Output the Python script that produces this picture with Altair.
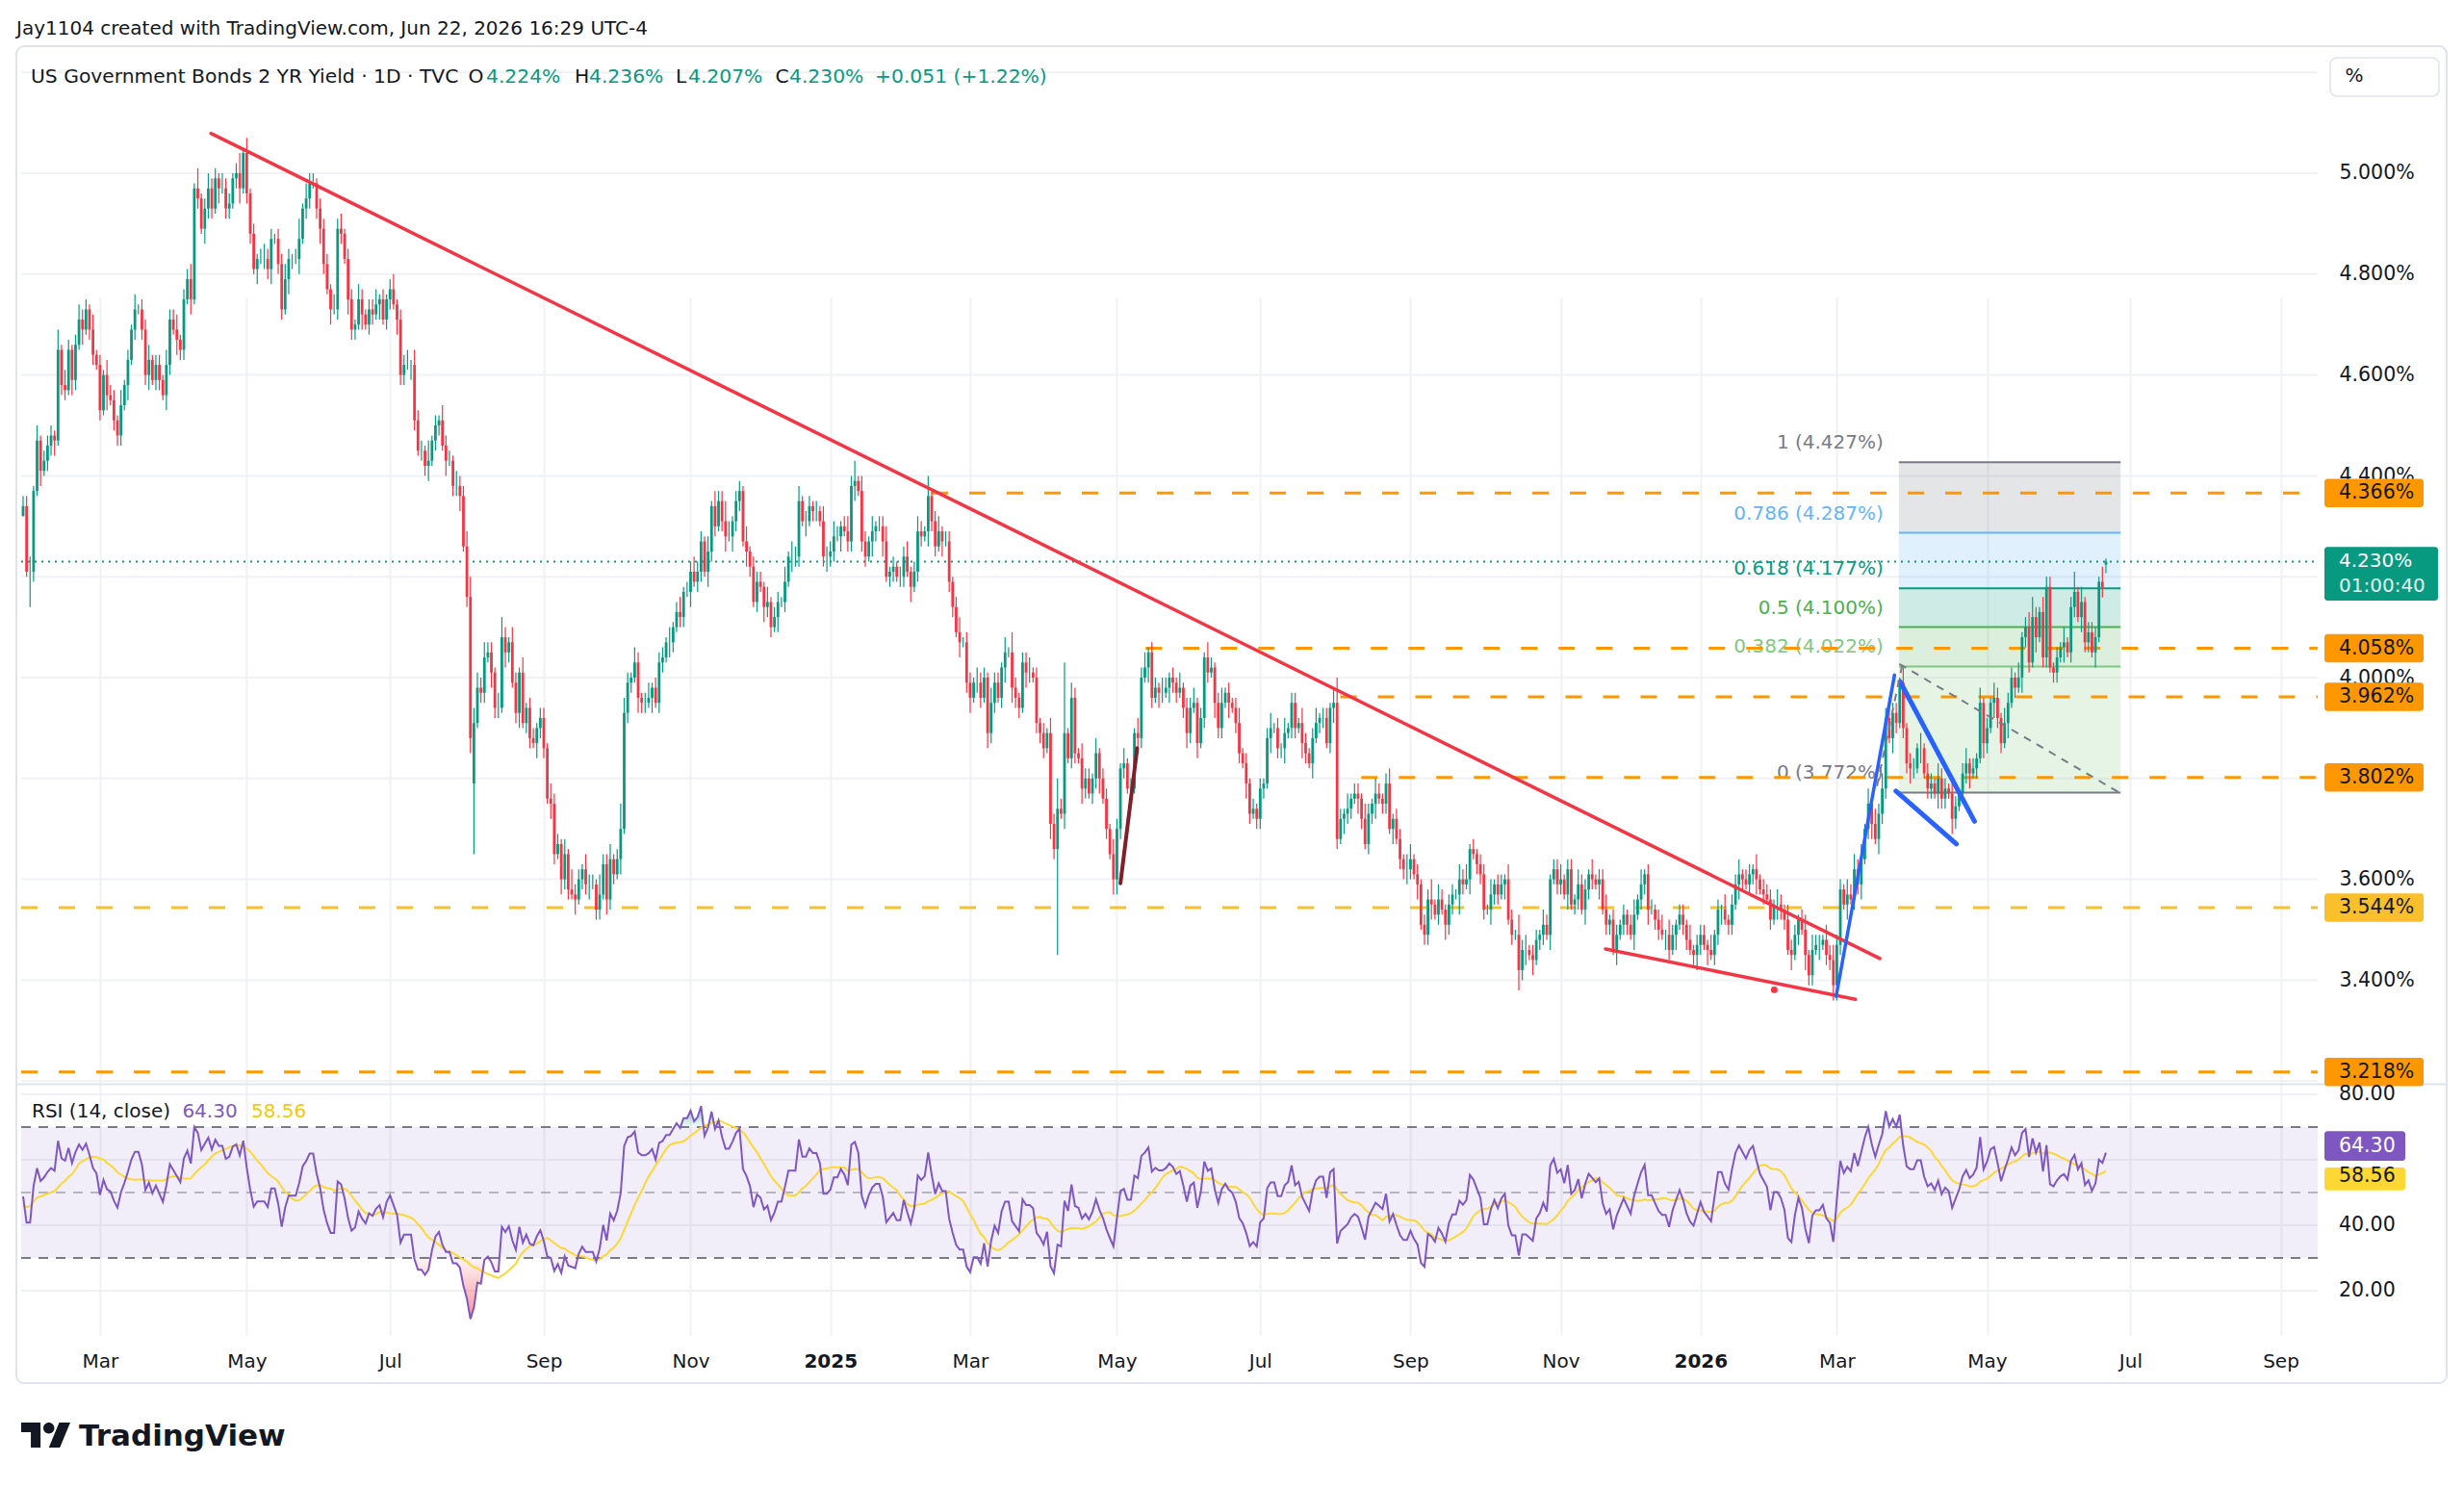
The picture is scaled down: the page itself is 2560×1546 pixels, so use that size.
import altair as alt
import numpy as np
import pandas as pd

# ------------------------------------------------------------------
# Values (US 2Y yield, daily candles)
# ------------------------------------------------------------------
# closes left of the visible area, only used to seed RSI(14)
warmup_close = [4.54, 4.63, 4.57, 4.60, 4.59, 4.72, 4.71, 4.73, 4.43, 4.39,
                4.44, 4.45, 4.45, 4.35, 4.35, 4.31, 4.26, 4.21, 4.28, 4.25,
                4.33, 4.33, 4.38, 4.38, 4.36, 4.37, 4.36, 4.25, 4.14, 4.22,
                4.35, 4.35, 4.39, 4.38, 4.39, 4.37, 4.27, 4.35, 4.30]

close_2024 = [
    4.34, 4.21,
    4.21, 4.37, 4.47, 4.41, 4.43, 4.46, 4.48, 4.47, 4.65, 4.58,
    4.57, 4.65, 4.59, 4.66, 4.71, 4.69, 4.73, 4.69, 4.64, 4.62,
    4.53, 4.60, 4.56, 4.55, 4.51, 4.48, 4.54, 4.58, 4.63, 4.69,
    4.73, 4.73, 4.69, 4.60, 4.63, 4.59, 4.62, 4.59, 4.56, 4.62,
    4.71, 4.69, 4.67, 4.65, 4.75, 4.79, 4.75, 4.97, 4.95, 4.89,
    4.93, 4.97, 4.93, 4.99, 4.97, 4.97, 4.93, 4.94, 4.99, 5.00, 4.97, 5.04,
    4.96, 4.88, 4.81, 4.83, 4.83, 4.83, 4.81, 4.87, 4.87, 4.82,
    4.73, 4.79, 4.83, 4.83, 4.83, 4.87, 4.93, 4.95, 4.98, 4.98, 4.93, 4.89,
    4.82, 4.77, 4.73, 4.73, 4.89, 4.88, 4.83, 4.75, 4.69, 4.70,
    4.75, 4.72, 4.70, 4.73, 4.72, 4.74, 4.75, 4.71, 4.75,
    4.77, 4.74, 4.71, 4.60, 4.62, 4.62, 4.62, 4.51, 4.45, 4.45,
    4.42, 4.43, 4.47, 4.50, 4.51, 4.46, 4.43, 4.43, 4.38, 4.38, 4.36, 4.26,
    4.16, 3.88, 3.91, 3.98, 3.97, 4.04, 4.05, 4.01, 3.94, 3.94,
    4.08, 4.05, 4.07, 3.99, 3.93, 4.01, 3.91, 3.94, 3.88, 3.87, 3.90, 3.92,
    3.86, 3.76, 3.75, 3.65, 3.67, 3.60, 3.65, 3.58, 3.57, 3.56,
    3.60, 3.62, 3.59, 3.59, 3.59, 3.54, 3.57, 3.63, 3.56, 3.64,
    3.61, 3.64, 3.70, 3.93, 3.99, 4.00, 4.03, 3.96, 3.95, 3.95,
    3.96, 3.98, 3.95, 4.03, 4.04, 4.07, 4.07, 4.10, 4.13, 4.12, 4.17, 4.17,
    4.21, 4.19, 4.21, 4.27, 4.21, 4.25, 4.34, 4.30, 4.35, 4.31,
    4.28, 4.28, 4.31, 4.35, 4.37, 4.27, 4.25, 4.22, 4.15,
    4.19, 4.18, 4.14, 4.15, 4.10, 4.12, 4.15, 4.15, 4.19, 4.24,
    4.24, 4.24, 4.35, 4.31, 4.31, 4.34, 4.33, 4.33, 4.31, 4.24, 4.24,
]
close_2025 = [
    4.25, 4.28, 4.28, 4.30, 4.29, 4.27, 4.38, 4.39, 4.37, 4.27,
    4.24, 4.27, 4.29, 4.30, 4.30, 4.27, 4.20, 4.21, 4.22, 4.20, 4.20,
    4.24, 4.21, 4.18, 4.21, 4.29, 4.28, 4.29, 4.36, 4.31, 4.26,
    4.29, 4.27, 4.27, 4.19, 4.14, 4.09, 4.07, 4.07, 3.99,
    3.96, 3.99, 3.99, 3.96, 4.00, 3.89, 3.95, 3.99, 3.96, 4.02,
    4.05, 4.05, 3.98, 3.96, 3.94, 4.03, 4.01, 4.01, 4.00, 3.91, 3.89,
    3.86, 3.89, 3.71, 3.66, 3.74, 3.73, 3.89, 3.84, 3.96, 3.85,
    3.84, 3.78, 3.80, 3.77, 3.80, 3.85, 3.80, 3.76, 3.70, 3.65, 3.60,
    3.70, 3.82, 3.83, 3.78, 3.78, 3.89, 3.88, 4.00, 4.02, 4.05,
    3.96, 3.98, 3.97, 3.97, 3.98, 4.00, 3.99, 3.97, 3.98, 3.94, 3.89,
    3.94, 3.95, 3.87, 3.92, 4.04, 4.01, 4.02, 3.95, 3.90, 3.95,
    3.97, 3.95, 3.94, 3.91, 3.85, 3.83, 3.79, 3.73, 3.74, 3.72,
    3.78, 3.79, 3.88, 3.90, 3.90, 3.86, 3.86, 3.89, 3.90, 3.95,
    3.90, 3.91, 3.87, 3.85, 3.83, 3.88, 3.91, 3.92, 3.92, 3.87, 3.94, 3.95,
    3.68, 3.72, 3.73, 3.74, 3.76, 3.77, 3.76, 3.72, 3.67, 3.73,
    3.75, 3.77, 3.76, 3.75, 3.79, 3.70, 3.72, 3.68, 3.64, 3.62, 3.62,
    3.64, 3.61, 3.59, 3.51, 3.49, 3.56, 3.55, 3.53, 3.56, 3.54,
    3.51, 3.55, 3.57, 3.57, 3.60, 3.59, 3.60, 3.66, 3.65, 3.63, 3.61,
    3.54, 3.54, 3.57, 3.59, 3.57, 3.59, 3.60, 3.52, 3.49, 3.49,
    3.42, 3.46, 3.46, 3.45, 3.44, 3.48, 3.49, 3.51, 3.49, 3.60, 3.62, 3.59,
    3.60, 3.57, 3.62, 3.55, 3.56, 3.59, 3.54, 3.58, 3.61, 3.60,
    3.59, 3.60, 3.54, 3.51, 3.52, 3.46, 3.49, 3.51,
    3.53, 3.51, 3.49, 3.53, 3.56, 3.59, 3.61, 3.54, 3.54, 3.52,
    3.50, 3.49, 3.49, 3.46, 3.49, 3.51, 3.53, 3.51, 3.48, 3.46, 3.45, 3.47,
]
close_2026 = [
    3.49, 3.47, 3.46, 3.45, 3.49, 3.54, 3.54, 3.52, 3.51, 3.55,
    3.59, 3.61, 3.60, 3.59, 3.61, 3.62, 3.60, 3.58, 3.57, 3.56,
    3.52, 3.55, 3.55, 3.54, 3.52, 3.46, 3.45, 3.49, 3.52, 3.50,
    3.45, 3.41, 3.46, 3.47, 3.47, 3.48, 3.45, 3.44, 3.39,
    3.47, 3.58, 3.55, 3.57, 3.56, 3.62, 3.59, 3.64, 3.70, 3.75,
    3.71, 3.68, 3.73, 3.78, 3.92, 3.88, 3.93, 3.91, 3.99, 3.90, 3.83, 3.82,
    3.82, 3.86, 3.86, 3.81, 3.78, 3.79, 3.77, 3.80, 3.76, 3.78,
    3.77, 3.72, 3.745, 3.77, 3.81, 3.83, 3.81, 3.82, 3.84, 3.95, 3.87,
    3.90, 3.95, 3.96, 3.92, 3.87, 3.91, 3.95, 4.00, 3.98, 4.00,
    4.08, 4.10, 4.03, 4.12, 4.08, 4.13, 4.04, 4.18, 4.02, 4.01,
    4.04, 4.06, 4.07, 4.05, 4.14, 4.17, 4.12, 4.15, 4.07, 4.09,
    4.05, 4.08, 4.19, 4.179, 4.230,
]

# wick extension beyond the candle body, in basis points (one digit per bar, months separated)
hi_wick = [
    "22 31312221413212322131 21322131213122312213 2231223141232213221241 3121232212232124132212 "
    "2213231221321223121 2312231322141213221322 3453232213421321312212 21322131422132214223 "
    "1253213212312221312312 2322131322431221312 221312213132312212132",
    "232123241321312231212 2312321412312212312 213221322131421223121 213262413213221312213 "
    "213121323122132121312 23121321231212312121 2123121312213212312213 521312213213212312213 "
    "312122413212213231212 2131221321423122132122 312213221312231221 2123131221231321221312",
    "22131213122312213122 2132132212313221323 2213232313232324221312 213122132213212312131 "
    "21321322131234213221 213124131222130",
]
lo_wick = [
    "21 72131223122132131221 21312221312122312213 2132213121322131221231 2213122312213213122123 "
    "2131221322131221312 2132213212231221312231 2331221322132123122132 21321322131223122132 "
    "2131221322131221321221 3122132212313221321 213221312132213122123",
    "221312231221321312212 2131221322131221312 312213221231322132122 213221312213212231213 "
    "322131221321321322123 21312213221312213212 2213122312213213122123 213221321223122131223 "
    "213122312132214213122 2132213121423131221312 213122132213122131 2213122312213213122123",
    "21312231221321223121 2132213121322131223 3213122312313221321223 213122132213212231213 "
    "21322131213221312212 213122132213121",
]
ohlc_fix = {
    "2024-01-30": {"open": 4.32},
    "2024-08-05": {"open": 3.79, "low": 3.65, "high": 3.94},
    "2025-04-07": {"low": 3.45, "high": 3.80},
    "2025-04-09": {"high": 4.03},
    "2025-08-01": {"high": 4.00},
    "2025-10-16": {"low": 3.38},
    "2026-06-22": {"open": 4.224, "high": 4.236, "low": 4.207},
}
holidays = ["2024-02-19", "2024-03-29", "2024-05-27", "2024-06-19", "2024-07-04", "2024-09-02",
            "2024-10-14", "2024-11-11", "2024-11-28", "2024-12-25", "2025-01-01", "2025-01-20",
            "2025-02-17", "2025-04-18", "2025-05-26", "2025-06-19", "2025-07-04", "2025-09-01",
            "2025-10-13", "2025-11-11", "2025-11-27", "2025-12-25", "2026-01-01", "2026-01-19",
            "2026-02-16", "2026-04-03", "2026-05-25", "2026-06-19", "2026-07-03", "2026-09-07"]

# price scale: gridlines and the labels that are not covered by tags
price_grid = [3.2, 3.4, 3.6, 3.8, 4.0, 4.2, 4.4, 4.6, 4.8, 5.0, 5.2]
price_labels = [3.4, 3.6, 4.0, 4.4, 4.6, 4.8, 5.0]

# horizontal drawings: price level, first bar index
hline_price = [4.366, 4.058, 3.962, 3.802, 3.544, 3.218]
hline_start = [260.0, 321.2, 376.9, 382.9, None, None]
hline_color = ["#ff9800", "#ff9800", "#ff9800", "#ff9800", "#f9c02c", "#ff9800"]
hline_ink = ["#131722"] * 6

# fib retracement
fib_names = ["1", "0.786", "0.618", "0.5", "0.382", "0"]
fib_price = [4.427, 4.287, 4.177, 4.100, 4.022, 3.772]
fib_color = ["#787b86", "#64b5f6", "#089981", "#4caf50", "#81c784", "#787b86"]
fib_x = [536.75, 600.2]

# trend lines: (bar0, price0, bar1, price1, colour, width)
trend = [
    (53.76, 5.079, 531.3, 3.443, "#f23645", 3.5),
    (452.8, 3.462, 524.3, 3.362, "#f23645", 3.5),
    (314.0, 3.592, 318.8, 3.860, "#801f2a", 4.0),
    (518.8, 3.368, 535.5, 4.005, "#2962ff", 3.5),
    (537.1, 3.992, 558.4, 3.715, "#2962ff", 5.0),
    (535.9, 3.775, 553.2, 3.670, "#2962ff", 5.0),
]
dashed = [(530.5, 3.785, 537.7, 4.025), (536.9, 4.027, 600.1, 3.771)]
red_dot = (501.1, 3.381)

last_price = 4.230
rsi_last, rsi_ma_last = "64.30", "58.56"

# ------------------------------------------------------------------
FONT = "DejaVu Sans"
UP, DOWN, INK, GRID = "#089981", "#f23645", "#131722", "#f0f1f4"
W, H = 2396, 1339
X_MIN, X_MAX = -0.55, 656.6
P_LO, P_HI = 3.1947, 5.2519
R_LO, R_HI = 6.47, 82.94
PANE = 1078
PPU = PANE / (P_HI - P_LO)            # px per 1% of yield
RPU = (H - PANE - 1) / (R_HI - R_LO)  # px per RSI point
FRAME_R = 2525
TAG_X = 2413

cal = pd.bdate_range("2024-01-30", "2026-09-30")
cal = cal[~cal.isin(pd.to_datetime(holidays))]
closes = close_2024 + close_2025 + close_2026
n = len(closes)
dates = cal[:n]


def digits(parts):
    s = "".join(p.replace(" ", "") for p in parts)
    d = [int(ch) for ch in s]
    return (d + [1] * n)[:n]


hw, lw = digits(hi_wick), digits(lo_wick)
c = np.array(closes, dtype=float)
o = np.concatenate([[c[0]], c[:-1]])
h = np.maximum(o, c) + np.array(hw) * 0.01
l = np.minimum(o, c) - np.array(lw) * 0.01
for ds, fx in ohlc_fix.items():
    ts = pd.Timestamp(ds)
    if ts not in dates:
        continue
    k = int(np.where(dates == ts)[0][0])
    if "open" in fx:
        o[k] = fx["open"]
    h[k] = fx.get("high", max(h[k], o[k], c[k]))
    l[k] = fx.get("low", min(l[k], o[k], c[k]))
bars = pd.DataFrame({"i": np.arange(n), "open": o, "high": h, "low": l, "close": c})

# RSI(14) with Wilder smoothing, and its 14-bar SMA
allc = np.array(warmup_close + closes, dtype=float)
dlt = np.diff(allc)
g, ls = np.where(dlt > 0, dlt, 0.0), np.where(dlt < 0, -dlt, 0.0)
N = 14
rsi = np.full(len(allc), np.nan)
ag, al = g[:N].mean(), ls[:N].mean()
rsi[N] = 100 - 100 / (1 + ag / al) if al > 0 else 100
for k in range(N + 1, len(allc)):
    ag = (ag * (N - 1) + g[k - 1]) / N
    al = (al * (N - 1) + ls[k - 1]) / N
    rsi[k] = 100 - 100 / (1 + ag / al) if al > 0 else 100
ma = pd.Series(rsi).rolling(N).mean().to_numpy()
off = len(warmup_close)
rs = pd.DataFrame({"i": np.arange(n), "rsi": rsi[off:], "ma": ma[off:]})
rs["ob"] = np.maximum(rs["rsi"], 70)
rs["os"] = np.minimum(rs["rsi"], 30)
rs["l70"], rs["l30"] = 70.0, 30.0

# month ticks (first trading day of every other month)
ticks, labs, years = [], [], []
prev = None
for k, d in enumerate(cal):
    key = (d.year, d.month)
    if key != prev:
        prev = key
        if k > 0 and d.month in (1, 3, 5, 7, 9, 11) and k <= X_MAX:
            ticks.append(k)
            labs.append(str(d.year) if d.month == 1 else d.strftime("%b"))
            if d.month == 1:
                years.append(k)
label_expr = " : ".join(f"datum.value == {v} ? '{t}'" for v, t in zip(ticks, labs)) + " : ''"
bold_test = " || ".join(f"datum.value == {v}" for v in years) or "false"

XS = alt.Scale(domain=[X_MIN, X_MAX], nice=False, zero=False)
PY = alt.Scale(domain=[P_LO, P_HI], range=[PANE, 0], nice=False, zero=False)
RY = alt.Scale(domain=[R_LO, R_HI], range=[H, PANE + 1], nice=False, zero=False)
X_AXIS = alt.Axis(values=ticks, labelExpr=label_expr, orient="bottom",
                  labelFontWeight={"condition": {"test": bold_test, "value": "bold"}, "value": "normal"},
                  labelFont=FONT, labelFontSize=20, labelColor=INK, labelPadding=17,
                  ticks=False, domain=False, grid=True, gridColor=GRID, gridWidth=2,
                  title=None, labelFlush=False, labelOverlap=False)
P_AXIS = alt.Axis(orient="right", values=price_labels,
                  labelExpr="format(datum.value, '.3f') + '%'", labelFont=FONT, labelFontSize=20.5,
                  labelColor=INK, labelPadding=TAG_X - W, ticks=False, domain=False, grid=False,
                  title=None, labelOverlap=False)


def Xe(f):
    return alt.X(f, type="quantitative", scale=XS, axis=X_AXIS)


def Pe(f, axis=None):
    return alt.Y(f, type="quantitative", scale=PY, axis=axis)


def Re(f):
    return alt.Y(f, type="quantitative", scale=RY, axis=None)


one = pd.DataFrame({"z": [0]})
layers = []

# frame
layers.append(alt.Chart(one).mark_rect(fillOpacity=0, stroke="#e0e3eb", strokeWidth=2, cornerRadius=8)
              .encode(x=alt.value(0), x2=alt.value(FRAME_R), y=alt.value(0), y2=alt.value(1389)))

# price gridlines
pg = pd.DataFrame({"v": price_grid, "x0": X_MIN, "x1": X_MAX})
layers.append(alt.Chart(pg).mark_rule(color=GRID, strokeWidth=2).encode(x=Xe("x0"), x2="x1", y=Pe("v")))

# ---- RSI pane ----
rg = pd.DataFrame({"v": [20, 40, 60, 80], "x0": X_MIN, "x1": X_MAX})
layers.append(alt.Chart(rg).mark_rule(color=GRID, strokeWidth=2).encode(x=Xe("x0"), x2="x1", y=Re("v")))
band = pd.DataFrame({"x0": [X_MIN], "x1": [X_MAX], "a": [70], "b": [30]})
layers.append(alt.Chart(band).mark_rect(color="#7e57c2", opacity=0.1)
              .encode(x=Xe("x0"), x2="x1", y=Re("a"), y2="b"))
layers.append(alt.Chart(one).mark_rule(color="#e0e3eb", strokeWidth=2)
              .encode(x=alt.value(0), x2=alt.value(FRAME_R), y=alt.value(PANE + 0.5)))
lv = pd.DataFrame({"v": [70, 50, 30], "x0": X_MIN, "x1": X_MAX, "op": [1.0, 0.5, 1.0]})
layers.append(alt.Chart(lv).mark_rule(color="#787b86", strokeWidth=1.8, strokeDash=[10, 8])
              .encode(x=Xe("x0"), x2="x1", y=Re("v"), opacity=alt.Opacity("op:Q", scale=None)))
layers.append(alt.Chart(rs).mark_area(
    color=alt.Gradient(gradient="linear", x1=0, x2=0, y1=0, y2=1,
                       stops=[alt.GradientStop(color="rgba(242,54,69,0.05)", offset=0),
                              alt.GradientStop(color="rgba(242,54,69,0.55)", offset=1)]))
    .encode(x=Xe("i"), y=Re("os"), y2="l30"))
layers.append(alt.Chart(rs).mark_area(
    color=alt.Gradient(gradient="linear", x1=0, x2=0, y1=0, y2=1,
                       stops=[alt.GradientStop(color="rgba(8,153,129,0.5)", offset=0),
                              alt.GradientStop(color="rgba(8,153,129,0.05)", offset=1)]))
    .encode(x=Xe("i"), y=Re("ob"), y2="l70"))
layers.append(alt.Chart(rs).mark_line(color="#fdd835", strokeWidth=2).encode(x=Xe("i"), y=Re("ma")))
layers.append(alt.Chart(rs).mark_line(color="#7e57c2", strokeWidth=2).encode(x=Xe("i"), y=Re("rsi")))

# ---- fib retracement ----
fb = pd.DataFrame({"hi": fib_price[:-1], "lo": fib_price[1:], "c": fib_color[:-1],
                   "x0": fib_x[0], "x1": fib_x[1]})
layers.append(alt.Chart(fb).mark_rect(opacity=0.2)
              .encode(x=Xe("x0"), x2="x1", y=Pe("hi"), y2="lo", color=alt.Color("c:N", scale=None)))
fl = pd.DataFrame({"p": fib_price, "c": fib_color, "x0": fib_x[0], "x1": fib_x[1],
                   "t": [f"{a} ({b:.3f}%)" for a, b in zip(fib_names, fib_price)]})
layers.append(alt.Chart(fl).mark_rule(strokeWidth=2)
              .encode(x=Xe("x0"), x2="x1", y=Pe("p"), color=alt.Color("c:N", scale=None)))
layers.append(alt.Chart(fl).mark_text(align="right", baseline="middle", dx=-16, dy=-20,
                                      font=FONT, fontSize=20)
              .encode(x=Xe("x0"), y=Pe("p"), text="t:N", color=alt.Color("c:N", scale=None)))

# ---- horizontal levels ----
hl = pd.DataFrame({"p": hline_price, "c": hline_color,
                   "x0": [X_MIN if s is None else s for s in hline_start], "x1": X_MAX})
layers.append(alt.Chart(hl).mark_rule(strokeWidth=3, strokeDash=[17, 22])
              .encode(x=Xe("x0"), x2="x1", y=Pe("p"), color=alt.Color("c:N", scale=None)))
pl = pd.DataFrame({"p": [last_price], "x0": [X_MIN], "x1": [X_MAX]})
layers.append(alt.Chart(pl).mark_rule(color=UP, strokeWidth=2, strokeDash=[2, 5])
              .encode(x=Xe("x0"), x2="x1", y=Pe("p")))

# ---- candles ----
col = alt.condition("datum.close >= datum.open", alt.value(UP), alt.value(DOWN))
layers.append(alt.Chart(bars).mark_rule(strokeWidth=1.2)
              .encode(x=Xe("i"), y=Pe("low"), y2="high", color=col))
layers.append(alt.Chart(bars).mark_bar(size=2.8)
              .encode(x=Xe("i"), y=Pe("open", P_AXIS), y2="close", color=col))

# ---- drawings ----
tr = pd.DataFrame(trend, columns=["a", "p", "b", "q", "c", "w"])
layers.append(alt.Chart(tr).mark_rule(strokeCap="round")
              .encode(x=Xe("a"), x2="b", y=Pe("p"), y2="q", color=alt.Color("c:N", scale=None),
                      strokeWidth=alt.StrokeWidth("w:Q", scale=None)))
dd = pd.DataFrame(dashed, columns=["a", "p", "b", "q"])
layers.append(alt.Chart(dd).mark_rule(color="#787b86", strokeWidth=2, strokeDash=[8, 7])
              .encode(x=Xe("a"), x2="b", y=Pe("p"), y2="q"))
layers.append(alt.Chart(pd.DataFrame({"a": [red_dot[0]], "p": [red_dot[1]]}))
              .mark_circle(size=48, color=DOWN, opacity=1).encode(x=Xe("a"), y=Pe("p")))


# ---- price-scale tags ----
def ptag(v, up, down):
    return v + up / PPU, v - down / PPU


tg = pd.DataFrame({"v": hline_price, "c": hline_color, "ink": hline_ink,
                   "t": [f"{v:.3f}%" for v in hline_price]})
tg["top"], tg["bot"] = ptag(tg["v"], 14.75, 14.75)
layers.append(alt.Chart(tg).mark_rect(cornerRadius=3)
              .encode(x=alt.value(W + 2), x2=alt.value(W + 105), y=Pe("top"), y2="bot",
                      color=alt.Color("c:N", scale=None)))
layers.append(alt.Chart(tg).mark_text(align="left", baseline="middle", font=FONT, fontSize=20.5)
              .encode(x=alt.value(TAG_X), y=Pe("v"), text="t:N", color=alt.Color("ink:N", scale=None)))
cur = pd.DataFrame({"v": [last_price]})
cur["top"], cur["bot"] = ptag(cur["v"], 15.2, 40.5)
layers.append(alt.Chart(cur).mark_rect(cornerRadius=3, color=UP)
              .encode(x=alt.value(W + 2), x2=alt.value(W + 120), y=Pe("top"), y2="bot"))
layers.append(alt.Chart(cur).mark_text(align="left", baseline="middle", font=FONT, fontSize=20,
                                       color="white", dy=-0.5)
              .encode(x=alt.value(TAG_X), y=Pe("v"), text=alt.value(f"{last_price:.3f}%")))
layers.append(alt.Chart(cur).mark_text(align="left", baseline="middle", font=FONT, fontSize=20,
                                       color="#e3f4f0", dy=25.5)
              .encode(x=alt.value(TAG_X), y=Pe("v"), text=alt.value("01:00:40")))

# ---- RSI scale labels and tags ----
rl = pd.DataFrame({"v": [80, 40, 20], "t": ["80.00", "40.00", "20.00"]})
layers.append(alt.Chart(rl).mark_text(align="left", baseline="middle", font=FONT, fontSize=20.5, color=INK)
              .encode(x=alt.value(TAG_X), y=Re("v"), text="t:N"))
rt = pd.DataFrame({"v": [float(rsi_last), float(rsi_ma_last)], "t": [rsi_last, rsi_ma_last],
                   "c": ["#7e57c2", "#fdd835"], "ink": ["white", INK],
                   "up": [15.1, -3.2], "dn": [15.6, 26.8], "dy": [0.3, 11.8]})
rt["top"] = rt["v"] + rt["up"] / RPU
rt["bot"] = rt["v"] - rt["dn"] / RPU
layers.append(alt.Chart(rt).mark_rect(cornerRadius=3)
              .encode(x=alt.value(W + 2), x2=alt.value(W + 86), y=Re("top"), y2="bot",
                      color=alt.Color("c:N", scale=None)))
for k in range(2):
    layers.append(alt.Chart(rt.iloc[[k]]).mark_text(align="left", baseline="middle", font=FONT,
                                                    fontSize=20.5, dy=float(rt["dy"][k]))
                  .encode(x=alt.value(TAG_X), y=Re("v"), text="t:N", color=alt.Color("ink:N", scale=None)))

# ---- header texts ----
TF = 20.3
heads = pd.DataFrame([
    (15, 32, "US Government Bonds 2 YR Yield · 1D · TVC", INK, TF),
    (469.6, 32, "O", INK, TF), (488, 32, "4.224%", UP, TF),
    (580, 32, "H", INK, TF), (595, 32, "4.236%", UP, TF),
    (685, 32, "L", INK, TF), (698, 32, "4.207%", UP, TF),
    (788.6, 32, "C", INK, TF), (803, 32, "4.230%", UP, TF),
    (892, 32, "+0.051 (+1.22%)", UP, TF),
    (0, -18, "Jay1104 created with TradingView.com, Jun 22, 2026 16:29 UTC-4", INK, 20),
    (16, 1107, "RSI (14, close)", INK, 20),
    (172.4, 1107, rsi_last, "#7e57c2", 20), (244, 1107, rsi_ma_last, "#f2c80f", 20),
], columns=["px", "py", "t", "c", "fs"])
layers.append(alt.Chart(heads).mark_text(align="left", baseline="middle", font=FONT)
              .encode(x=alt.X("px:Q", scale=None), y=alt.Y("py:Q", scale=None), text="t:N",
                      color=alt.Color("c:N", scale=None), size=alt.Size("fs:Q", scale=None)))

# "%" scale button
layers.append(alt.Chart(one).mark_rect(color="white", stroke="#e0e3eb", strokeWidth=1.5, cornerRadius=7)
              .encode(x=alt.value(W + 8), x2=alt.value(W + 121), y=alt.value(12), y2=alt.value(52)))
layers.append(alt.Chart(one).mark_text(font=FONT, fontSize=20, color=INK, align="center", baseline="middle")
              .encode(x=alt.value(W + 33), y=alt.value(31), text=alt.value("%")))

# TradingView logo
LOGO = ("M-0.211,0.507H-0.606V-0.113H-1V-0.507H-0.211Z "
        "M0.577,0.507H0.127L0.549,-0.507H1Z "
        "M-0.098,-0.282A0.225,0.225 0 1,0 0.352,-0.282A0.225,0.225 0 1,0 -0.098,-0.282Z")
layers.append(alt.Chart(one).mark_point(shape=LOGO, filled=True, size=2601, color=INK, opacity=1)
              .encode(x=alt.value(30.5), y=alt.value(1443)))
layers.append(alt.Chart(one).mark_text(font=FONT, fontSize=31, fontWeight="bold", color=INK,
                                       align="left", baseline="middle")
              .encode(x=alt.value(65), y=alt.value(1445), text=alt.value("TradingView")))

chart = (alt.layer(*layers)
         .resolve_scale(y="independent")
         .properties(width=W, height=H, background="white",
                     autosize=alt.AutoSizeParams(type="none"),
                     padding={"left": 9, "top": 40, "right": 139, "bottom": 145})
         .configure_view(stroke=None))

chart.save("out.html", embed_options={"renderer": "svg", "actions": False})
